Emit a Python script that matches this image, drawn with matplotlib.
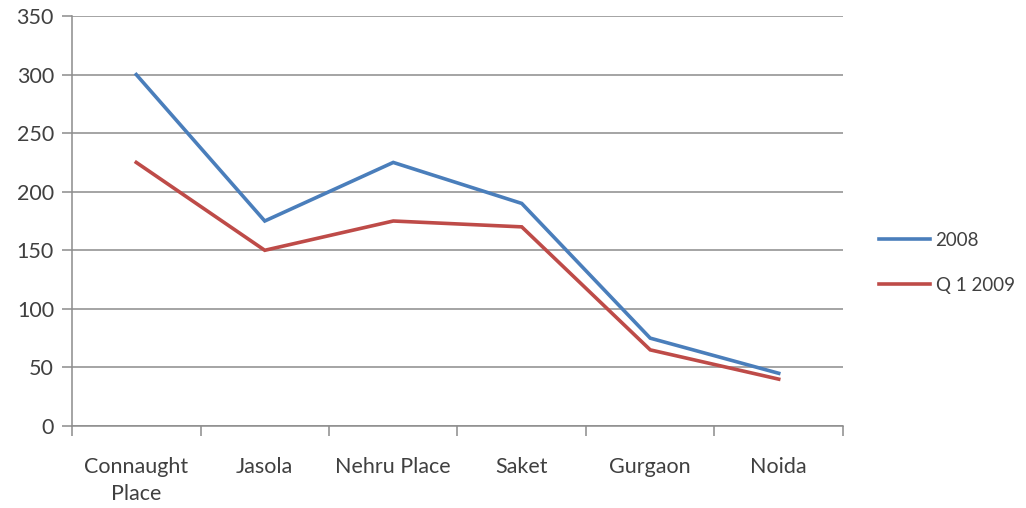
import matplotlib
matplotlib.use("Agg")
import matplotlib.pyplot as plt
import numpy as np

# ── data ────────────────────────────────────────────
locations = ["Connaught\nPlace", "Jasola", "Nehru Place", "Saket", "Gurgaon", "Noida"]
rent_2008 = [300, 175, 225, 190, 75, 45]
rent_q1_2009 = [225, 150, 175, 170, 65, 40]
y_ticks = [0, 50, 100, 150, 200, 250, 300, 350]

plt.rcParams["font.family"] = ["Lato", "DejaVu Sans"]

grid_col = "#8c8c8c"
text_col = "#404040"
fs = 15.5

fig = plt.figure(figsize=(10.26, 5.08), dpi=100)
ax = fig.add_axes([0.0702, 0.1614, 0.7514, 0.8071])

x = np.arange(len(locations))
ax.plot(x, rent_2008, color="#4a7ebb", lw=2.6, label="2008", solid_joinstyle="miter")
ax.plot(x, rent_q1_2009, color="#be4b48", lw=2.6, label="Q 1 2009", solid_joinstyle="miter")

ax.set_xlim(-0.5, len(locations) - 0.5)
ax.set_ylim(0, 350)
ax.set_yticks(y_ticks)
ax.set_yticklabels([str(v) for v in y_ticks], fontsize=fs, color=text_col)
ax.yaxis.grid(True, color=grid_col, lw=1.1)
ax.set_axisbelow(True)

# tick marks between categories, labels at the category centres
ax.set_xticks(np.arange(-0.5, len(locations), 1.0))
ax.set_xticklabels([])
ax.set_xticks(x, minor=True)
ax.set_xticklabels(locations, minor=True, fontsize=fs, color=text_col,
                   linespacing=1.45)
ax.tick_params(axis="x", which="minor", length=0, pad=22)
ax.tick_params(axis="x", which="major", length=7, color=grid_col, width=1.1)
ax.tick_params(axis="y", length=7, color=grid_col, width=1.1, pad=6)

for side in ["top", "right"]:
    ax.spines[side].set_visible(False)
for side in ["left", "bottom"]:
    ax.spines[side].set_color(grid_col)
    ax.spines[side].set_linewidth(1.1)

ax.legend(loc="center left", bbox_to_anchor=(0.857, 0.483),
          bbox_transform=fig.transFigure, frameon=False, fontsize=13.5,
          borderpad=0, borderaxespad=0,
          handlelength=2.7, handletextpad=0.3, labelspacing=1.5,
          labelcolor=text_col)

plt.savefig("out.png", dpi=100)
plt.close()
